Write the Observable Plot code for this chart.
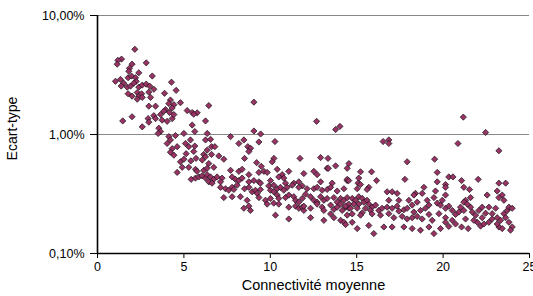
<!DOCTYPE html>
<html><head><meta charset="utf-8">
<script src="https://cdn.jsdelivr.net/npm/d3@7"></script>
<script src="https://cdn.jsdelivr.net/npm/@observablehq/plot@0.6"></script>
<style>body{margin:0;background:#fff}</style>
</head><body><div id="chart"></div>
<script>
// [connectivité moyenne, écart-type en %]
const pointsDebut = [[2.16,5.2],[1.39,4.3],[1.18,4.2],[1.14,3.9],[2.82,4.0],[2.0,3.9],[1.85,3.6],[1.81,3.4],[2.39,3.3],[3.17,3.1],[1.04,2.8],[1.33,2.9],[1.52,2.7],[1.77,3.0],[1.97,3.1],[2.2,3.0],[2.24,2.8],[1.72,2.5],[1.91,2.55],[2.1,2.7],[2.39,2.5],[2.59,2.6],[2.82,2.65],[3.02,2.55],[3.26,2.4],[1.37,2.55],[4.28,2.75],[4.55,2.35],[3.88,2.22],[1.77,2.2],[2.0,2.1],[2.3,2.25],[2.39,2.1],[2.55,2.2],[2.59,2.05],[2.97,2.27],[3.07,2.05],[4.22,1.95]];
const pointsDescente = [[2.3,1.98],[4.13,1.82],[4.42,1.78],[4.8,1.85],[2.97,1.73],[3.36,1.73],[3.94,1.62],[4.32,1.67],[4.17,1.53],[3.84,1.57],[5.19,1.59],[5.48,1.53],[5.77,1.52],[6.44,1.75],[5.57,1.48],[1.46,1.30],[2.0,1.41],[2.93,1.36],[2.97,1.27],[3.26,1.44],[3.36,1.36],[3.65,1.47],[3.74,1.32],[4.03,1.29],[4.32,1.36],[4.42,1.47],[2.59,1.16],[3.55,1.13],[3.65,1.06],[3.51,1.02],[5.48,1.2],[5.63,1.06],[6.25,1.30],[6.35,1.02],[4.13,0.96],[4.22,0.90],[4.51,0.98],[5.0,1.02],[4.03,0.84],[4.32,0.76],[4.61,0.79],[4.22,0.71],[4.42,0.67],[5.09,0.84],[5.38,0.90],[5.28,0.79],[5.63,0.80],[5.57,0.72],[5.13,0.69],[6.25,0.90],[6.54,0.91],[6.6,0.79],[6.79,0.79],[6.35,0.74],[7.02,0.66],[7.31,0.62],[7.7,0.96],[8.18,0.84],[8.47,0.90],[6.15,0.68],[6.25,0.65],[6.6,0.68],[6.06,0.61],[6.44,0.57],[4.8,0.59],[5.0,0.62],[5.4,0.6],[5.7,0.63]];
const pointsMilieu = [[4.61,0.48],[4.90,0.53],[5.28,0.53],[5.67,0.51],[5.76,0.49],[6.15,0.50],[6.34,0.52],[6.73,0.53],[7.70,0.50],[8.18,0.49],[8.37,0.51],[8.76,0.46],[9.34,0.48],[9.63,0.49],[9.82,0.48],[10.40,0.51],[10.69,0.46],[11.07,0.49],[11.94,0.47],[12.52,0.49],[12.71,0.46],[13.29,0.52],[14.45,0.52],
[5.42,0.42],[5.67,0.43],[5.86,0.44],[6.05,0.45],[6.25,0.43],[6.34,0.46],[6.54,0.44],[6.73,0.42],[6.44,0.40],[6.92,0.44],[7.21,0.43],[6.63,0.39],[7.12,0.40],[7.79,0.44],[7.98,0.42],[8.18,0.41],[8.37,0.43],[8.76,0.40],[9.05,0.41],[9.34,0.40],[9.43,0.39],[10.01,0.41],[10.49,0.44],[10.78,0.43],[10.88,0.39],[11.36,0.39],[11.65,0.40],[11.85,0.37],[12.91,0.40],[13.58,0.39],[14.45,0.41],
[7.12,0.36],[7.41,0.35],[7.60,0.34],[7.79,0.36],[7.89,0.345],[8.08,0.375],[8.51,0.35],[8.76,0.36],[8.95,0.33],[9.14,0.34],[9.43,0.345],[9.24,0.32],[9.91,0.37],[10.01,0.34],[10.20,0.33],[10.40,0.35],[10.59,0.36],[10.78,0.34],[10.98,0.36],[10.20,0.375],[11.27,0.375],[11.65,0.36],[12.13,0.35],[12.52,0.35],[12.71,0.36],[13.0,0.34],[13.29,0.345],[13.49,0.36],[13.87,0.335],[14.26,0.35],
[7.31,0.295],[7.79,0.30],[8.27,0.30],[8.66,0.28],[9.34,0.295],[9.72,0.28],[10.01,0.29],[10.40,0.31],[10.49,0.29],[11.36,0.30],[11.46,0.28],[11.65,0.27],[11.85,0.29],[12.04,0.315],[12.33,0.30],[12.52,0.28],[12.71,0.27],[12.91,0.30],[13.10,0.28],[13.29,0.29],[13.68,0.295],[13.87,0.27],[14.07,0.29],[14.26,0.28],[14.45,0.295],[10.88,0.295],[11.07,0.31],
[8.47,0.24],[8.76,0.25],[8.85,0.23],[9.82,0.26],[10.20,0.265],[10.49,0.26],[11.07,0.245],[11.46,0.25],[11.65,0.24],[11.85,0.245],[11.94,0.23],[12.33,0.24],[12.71,0.26],[13.0,0.245],[13.10,0.23],[13.49,0.255],[13.68,0.235],[13.87,0.245],[14.07,0.26],[14.16,0.23],[14.36,0.245],[14.55,0.24],[11.94,0.25],
[10.30,0.21],[11.07,0.195],[12.33,0.20],[13.10,0.19],[13.68,0.20],[14.07,0.19],[14.26,0.183],[14.36,0.175],[13.49,0.215]];
const pointsFin = [[15.22,0.486],[15.86,0.486],[14.45,0.42],[14.54,0.41],[15.12,0.43],[15.08,0.39],[15.22,0.38],[16.15,0.41],[17.79,0.42],[19.66,0.48],[20.33,0.44],[20.57,0.44],[21.07,0.41],[22.03,0.42],[23.23,0.39],[23.62,0.39],
[15.70,0.36],[15.60,0.345],[15.03,0.35],[16.76,0.33],[17.34,0.32],[17.05,0.33],[18.40,0.32],[18.31,0.31],[18.89,0.36],[18.79,0.32],[19.56,0.335],[19.47,0.295],[20.14,0.38],[20.14,0.36],[21.20,0.36],[21.53,0.345],[22.55,0.31],[23.13,0.335],[23.42,0.31],[23.52,0.28],[23.23,0.295],[21.30,0.28],[21.59,0.295],[20.14,0.31],
[14.74,0.29],[14.93,0.28],[15.12,0.30],[15.32,0.29],[15.41,0.27],[15.60,0.28],[15.70,0.26],[15.12,0.26],[14.83,0.26],[14.54,0.26],[14.35,0.25],[14.64,0.24],[15.03,0.24],[15.51,0.24],[15.89,0.245],[16.09,0.255],[15.80,0.23],[15.32,0.22],[14.45,0.21],[14.74,0.215],[15.22,0.21],[15.89,0.215],[16.28,0.23],[16.47,0.24],[16.38,0.21],
[16.86,0.28],[17.44,0.28],[16.76,0.245],[17.05,0.24],[17.34,0.25],[17.44,0.227],[17.73,0.233],[18.02,0.28],[17.92,0.24],[18.21,0.255],[18.31,0.223],[18.5,0.27],[18.69,0.23],[18.98,0.24],[19.08,0.28],[19.18,0.255],[16.86,0.216],[17.15,0.20],[17.63,0.205],[17.92,0.195],[18.21,0.20],[18.5,0.205],[18.79,0.195],[19.18,0.213],[19.37,0.19],
[19.66,0.265],[19.85,0.255],[19.95,0.28],[20.14,0.24],[20.33,0.25],[20.53,0.23],[20.72,0.213],[19.76,0.216],[20.14,0.20],[20.53,0.19],[20.91,0.223],[21.01,0.245],[21.20,0.23],[21.30,0.195],[21.59,0.245],[21.69,0.223],[21.88,0.21],[22.07,0.23],[22.26,0.245],[21.98,0.183],[21.78,0.19],[22.17,0.17],[21.20,0.27],[21.40,0.26],[22.26,0.20],[22.46,0.218],
[22.65,0.245],[22.84,0.216],[23.04,0.24],[23.13,0.20],[23.33,0.19],[23.52,0.216],[23.62,0.20],[23.71,0.23],[23.81,0.245],[24.0,0.24],[23.81,0.183],[24.0,0.167],[23.9,0.157],[22.84,0.195],[23.23,0.167],[23.42,0.162],[23.13,0.177],[22.65,0.183],
[15.03,0.162],[14.74,0.183],[15.70,0.172],[15.99,0.147],[16.57,0.167],[17.05,0.167],[17.73,0.167],[18.21,0.162],[18.69,0.157],[19.18,0.167],[19.47,0.147],[19.85,0.162],[20.33,0.169],[20.72,0.177],[21.07,0.167],[21.45,0.162],[22.36,0.177],[20.14,0.183]];
const pointsIsoles = [[9.05,1.87],[12.68,1.29],[14.03,1.17],[13.78,1.10],[9.05,1.07],[9.44,1.01],[9.34,0.865],[10.27,0.873],[8.70,0.79],[8.86,0.766],[8.76,0.72],[8.51,0.63],[9.21,0.58],[9.48,0.54],[10.21,0.63],[10.11,0.59],[11.72,0.63],[12.91,0.64],[13.34,0.63],[13.36,0.52],[13.78,0.545],[14.55,0.57],[21.17,1.40],[22.46,1.04],[16.53,0.873],[16.86,0.90],[16.86,0.84],[20.86,0.84],[23.23,0.73],[17.92,0.59],[19.51,0.62],[19.66,0.40]];

const xTicks = [0, 5, 10, 15, 20, 25];
const yTicks = [0.1, 1, 10];
const yTickLabels = ["0,10%", "1,00%", "10,00%"];
const xLabel = "Connectivité moyenne";
const yLabel = "Ecart-type";

const data = [...pointsDebut, ...pointsDescente, ...pointsMilieu, ...pointsFin, ...pointsIsoles]
  .map(([x, y]) => ({x, y}));

const chart = Plot.plot({
  width: 533, height: 296,
  marginLeft: 97, marginRight: 4, marginTop: 15, marginBottom: 43,
  style: {fontFamily: "'Liberation Sans', Arial, sans-serif", fontSize: "12.5px", color: "#000", background: "#fff"},
  x: {domain: [0, 25], label: null},
  y: {type: "log", domain: [0.1, 10], label: null},
  marks: [
    Plot.ruleY([1, 10], {stroke: "#888", strokeWidth: 1.2}),
    Plot.dot(data, {x: "x", y: "y", symbol: "diamond2", r: 2.8, fill: "#993366", stroke: "#111", strokeWidth: 0.7}),
    Plot.ruleX([0], {stroke: "#000", strokeWidth: 1.6}),
    Plot.ruleY([0.1], {stroke: "#000", strokeWidth: 1.6}),
    Plot.axisX({ticks: xTicks, tickSize: 5, tickPadding: 4, label: null, fontSize: 12.5}),
    Plot.axisY({ticks: yTicks, tickSize: 7, tickPadding: 6, label: null, fontSize: 12.5,
      tickFormat: d => yTickLabels[yTicks.indexOf(d)]}),
    Plot.text([xLabel], {frameAnchor: "bottom", textAnchor: "middle", lineAnchor: "middle", dy: 32, fontSize: 14.5, fill: "#000"}),
    Plot.text([yLabel], {frameAnchor: "left", textAnchor: "middle", lineAnchor: "middle", dx: -85, dy: -6, rotate: -90, fontSize: 14, fill: "#000"})
  ]
});
document.getElementById("chart").appendChild(chart);
</script>
</body></html>
